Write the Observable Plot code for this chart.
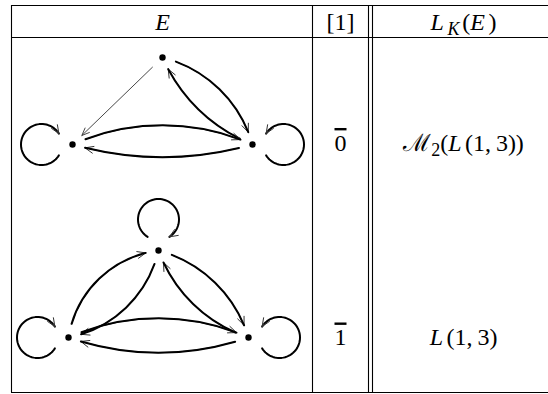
<!DOCTYPE html>
<html><head><meta charset="utf-8">
<script src="https://cdn.jsdelivr.net/npm/d3@7"></script>
<script src="https://cdn.jsdelivr.net/npm/@observablehq/plot@0.6"></script>
<style>html,body{margin:0;padding:0;background:#fff;} svg{display:block}</style>
</head><body><div id="chart"></div>
<script>
// ---------------- data ----------------
const headers = ["E", "[1]", "L_{K}(E)"];
const rowClasses = ["\\bar{0}", "\\bar{1}"];
const rowAlgebras = ["\u2133_{2}(L(1,3))", "L(1,3)"];

const graph1Nodes = [
  {id: "top", x: 162, y: 57},
  {id: "left", x: 72, y: 144},
  {id: "right", x: 252, y: 144}
];
const graph1Edges = [
  {from: "top", to: "left", bend: 0, thin: true},
  {from: "top", to: "right", bend: 30},
  {from: "right", to: "top", bend: 22},
  {from: "left", to: "right", bend: 24},
  {from: "right", to: "left", bend: 16}
];
const graph1Loops = [
  {at: "left", dir: 180, cw: true},
  {at: "right", dir: 0, cw: false}
];

const graph2Nodes = [
  {id: "top", x: 158, y: 250},
  {id: "left", x: 68, y: 337},
  {id: "right", x: 248, y: 337}
];
const graph2Edges = [
  {from: "left", to: "top", bend: 37},
  {from: "top", to: "left", bend: 33},
  {from: "top", to: "right", bend: 29},
  {from: "right", to: "top", bend: 26},
  {from: "left", to: "right", bend: 24},
  {from: "right", to: "left", bend: 19}
];
const graph2Loops = [
  {at: "top", dir: -90, cw: true},
  {at: "left", dir: 180, cw: true},
  {at: "right", dir: 0, cw: false}
];

// ---------------- layout ----------------
const W = 548, H = 394;
const tableLeft = 11, tableRight = 548, tableTop = 5, tableBottom = 392;
const rowRules = [5, 37, 392];
const colRules = [11, 312, 368, 372];
const colCenters = [162, 340, 463];
const headerY = 21.8;
const rowY = [142.8, 337.3];
const FS = 24;
const SERIF = "'Liberation Serif', 'Times New Roman', serif";
const LOOP_DIST = 31, LOOP_R = 20.5, LOOP_GAP = 32;

const cells = [
  ...headers.map((h, i) => ({label: h, x: colCenters[i], y: headerY})),
  ...rowClasses.map((c, i) => ({label: c, x: colCenters[1], y: rowY[i]})),
  ...rowAlgebras.map((a, i) => ({label: a, x: colCenters[2], y: rowY[i]}))
];

const marks = [
  Plot.ruleY(rowRules, {y: d => d, x1: tableLeft, x2: tableRight, stroke: "black", strokeWidth: 1.1}),
  Plot.ruleX(colRules, {x: d => d, y1: tableTop, y2: tableBottom, stroke: "black", strokeWidth: 1.1})
];

const loopPts = [], loopHeads = [], allNodes = [];
[[graph1Nodes, graph1Edges, graph1Loops, "g1"], [graph2Nodes, graph2Edges, graph2Loops, "g2"]].forEach(([nodes, edges, loops, g]) => {
  const byId = Object.fromEntries(nodes.map(n => [n.id, n]));
  allNodes.push(...nodes);
  for (const e of edges) {
    const d = [{x1: byId[e.from].x, y1: byId[e.from].y, x2: byId[e.to].x, y2: byId[e.to].y}];
    const geom = {x1: "x1", y1: "y1", x2: "x2", y2: "y2", bend: e.bend, insetStart: 14, insetEnd: 13};
    marks.push(Plot.arrow(d, {...geom, stroke: "#333", strokeWidth: e.thin ? 0.9 : 1, headLength: 13.5, headAngle: 45}));
    if (!e.thin) marks.push(Plot.arrow(d, {...geom, stroke: "black", strokeWidth: 2, headLength: 0}));
  }
  for (const l of loops) {
    const n = byId[l.at];
    const phi = l.dir * Math.PI / 180;
    const cx = n.x + LOOP_DIST * Math.cos(phi), cy = n.y + LOOP_DIST * Math.sin(phi);
    const psi = phi + Math.PI, gap = LOOP_GAP * Math.PI / 180, s = l.cw ? 1 : -1;
    const a0 = psi + s * gap, a1 = psi + s * (2 * Math.PI - gap);
    const key = g + l.at, N = 60;
    for (let k = 0; k <= N; k++) {
      const a = a0 + (a1 - a0) * k / N;
      loopPts.push({key, x: cx + LOOP_R * Math.cos(a), y: cy + LOOP_R * Math.sin(a)});
    }
    const ex = cx + LOOP_R * Math.cos(a1), ey = cy + LOOP_R * Math.sin(a1);
    const tx = -s * Math.sin(a1), ty = s * Math.cos(a1);
    loopHeads.push({x1: ex - 30 * tx, y1: ey - 30 * ty, x2: ex, y2: ey});
  }
});

marks.push(
  Plot.line(loopPts, {x: "x", y: "y", z: "key", stroke: "black", strokeWidth: 2}),
  Plot.arrow(loopHeads, {x1: "x1", y1: "y1", x2: "x2", y2: "y2", insetStart: 27, headLength: 13.5, headAngle: 45, stroke: "#333", strokeWidth: 1}),
  Plot.dot(allNodes, {x: "x", y: "y", r: 3.2, fill: "black", stroke: "none"}),
  Plot.text(cells, {x: "x", y: "y", text: "label", fontSize: FS, fontFamily: SERIF, fill: "black"})
);

const svg = Plot.plot({
  width: W, height: H, margin: 0,
  x: {domain: [0, W], range: [0, W], axis: null},
  y: {domain: [0, H], range: [0, H], axis: null},
  style: {background: "white"},
  marks
});

// mini typesetting: _{..} subscript, \bar{..} overline, Latin letters italic, math comma spacing
function tokens(s) {
  const out = []; let i = 0;
  while (i < s.length) {
    if (s.startsWith("\\bar{", i)) { const j = s.indexOf("}", i); out.push({t: s.slice(i + 5, j), bar: true}); i = j + 1; }
    else if (s.startsWith("_{", i)) { const j = s.indexOf("}", i); out.push({t: s.slice(i + 2, j), sub: true}); i = j + 1; }
    else { let j = i; while (j < s.length && !s.startsWith("\\bar{", j) && !s.startsWith("_{", j)) j++; out.push({t: s.slice(i, j)}); i = j; }
  }
  return out;
}
function typeset(el, src) {
  const NS = "http://www.w3.org/2000/svg";
  el.textContent = "";
  el.style.fontFamily = SERIF;
  let shift = 0, pendingDx = 0;
  for (const tok of tokens(src)) {
    const target = tok.sub ? FS * 0.2 : 0;
    const size = tok.sub ? FS * 0.75 : FS;
    tok.t.replace(/,/g, ",\u2009").split(/([A-Za-z]+)/).filter(p => p).forEach(p => {
      const ts = document.createElementNS(NS, "tspan");
      ts.textContent = p;
      if (target !== shift) { ts.setAttribute("dy", target - shift); shift = target; }
      if (pendingDx) { ts.setAttribute("dx", pendingDx); pendingDx = 0; }
      const italic = /^[A-Za-z]+$/.test(p);
      if (italic) { ts.setAttribute("font-style", "italic"); pendingDx = size * 0.15; }
      if (tok.sub) ts.setAttribute("font-size", size);
      if (tok.bar) ts.style.textDecoration = "overline";
      el.appendChild(ts);
    });
  }
}
svg.querySelectorAll('g[aria-label="text"] text').forEach(t => typeset(t, t.textContent));
document.getElementById("chart").appendChild(svg);
</script></body></html>
